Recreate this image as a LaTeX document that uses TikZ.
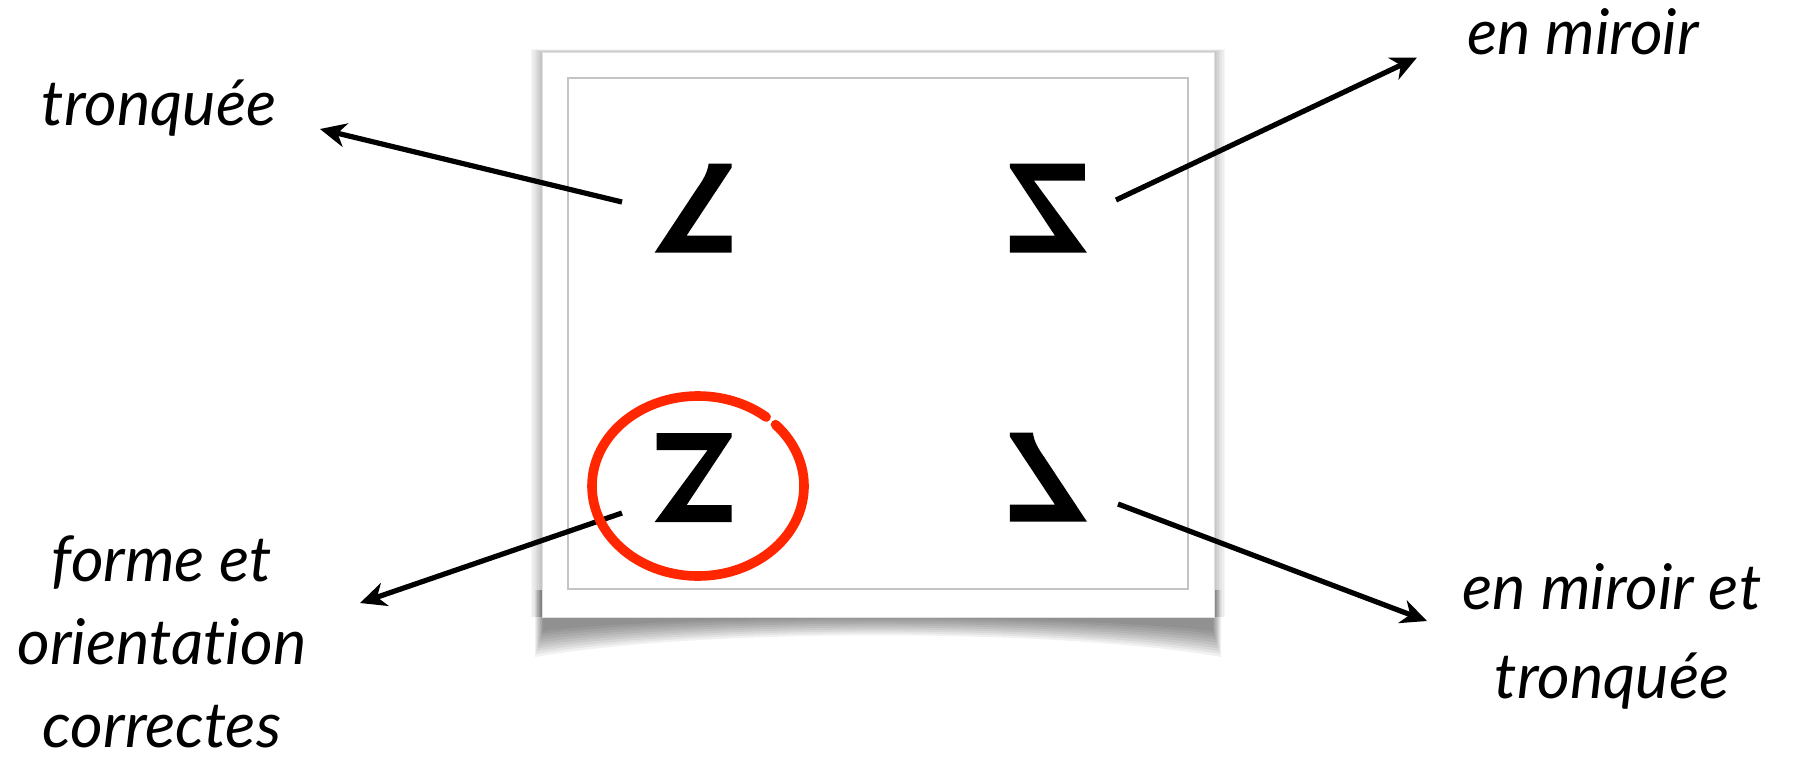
\documentclass[tikz,border=0pt]{standalone}
\usepackage{fontspec}
\setmainfont{Lato}[Ligatures=NoCommon]
\usetikzlibrary{arrows.meta, positioning, calc}
\definecolor{ringred}{RGB}{255,38,0}
\definecolor{framegray}{RGB}{196,196,196}
\tikzset{
  lbl/.style={font=\fontsize{31.5}{41.5}\selectfont\itshape, inner sep=0pt, text=black},
  arrow/.style={-{Stealth[length=13pt, width=12pt, inset=4pt]}, line width=2.6pt, color=black},
  zbox/.style={minimum width=38.5pt, minimum height=44.5pt, inner sep=0pt},
  glyph/.style={fill=black},
  ring/.style={draw=ringred, line width=4.8pt, line cap=round},
  zfull/.pic={\fill[glyph] (2,0) -- (77,0) -- (77,4) -- (32,72) -- (77,72) -- (77,89) -- (0,89) -- (53,17) -- (2,17) -- cycle;},
  zcut/.pic={\fill[glyph] (54,0) -- (77,0) -- (77,4) -- (32,72) -- (77,72) -- (77,89) -- (0,89) -- (43,24) .. controls (48,17) and (53,9) .. (54,0) -- cycle;}
}

\begin{document}
\begin{tikzpicture}[x=0.5pt, y=-0.5pt]
  \useasboundingbox (0,0) rectangle (1804,762);

  % shadow of the card
  \foreach \i in {1,...,10}
    \fill[black, opacity=0.055] (544-\i*0.9,590) -- (544-\i*0.9,628+\i*2.9)
      .. controls (700,612+\i*1.6) and (1056,612+\i*1.6) .. (1212+\i*0.9,628+\i*2.9)
      -- (1212+\i*0.9,590) -- cycle;
  \foreach \i in {1,...,7}
    \fill[black, opacity=0.035] (542-\i*1.6,52-\i*0.4) rectangle (1214+\i*1.6,617);

  % card
  \fill[white, draw=black!12, line width=0.5pt] (542,52) rectangle (1214,617);
  \draw[framegray, line width=1.3pt] (568,78) rectangle (1188,589);

  % the four letters
  \node[zbox] (zTL) at (693.5,208.5) {};
  \node[zbox] (zTR) at (1048,208.5) {};
  \node[zbox] (zBL) at (693.5,478) {};
  \node[zbox] (zBR) at (1048,477.5) {};
  \pic at (zTL.north west) {zcut};
  \pic[xscale=-1] at (zTR.north east) {zfull};
  \pic at (zBL.north west) {zfull};
  \pic[xscale=-1] at (zBR.north east) {zcut};

  % labels
  \node[lbl, anchor=base] (tronq) at (159,125) {tronquée};
  \node[lbl, anchor=base] (miroir) at (1583,54) {en miroir};
  \node[lbl, align=center] (forme) at (162,642) {forme et\\orientation\\correctes};
  \node[lbl, align=center, font=\fontsize{31.5}{44.5}\selectfont\itshape] (mirtr) at (1612,636) {en miroir et\\tronquée};

  \draw[arrow] ($(zTL)+(-71.5,-6.5)$) -- ($(tronq.base)+(161,4)$);
  \draw[arrow] ($(zTR)+(68,-8.5)$) -- ($(miroir.base)+(-166,3.5)$);
  \draw[arrow] ($(zBL)+(-71.5,35)$) -- ($(forme)+(198,-39)$);
  \draw[arrow] ($(zBR)+(70,26.5)$) -- ($(mirtr)+(-185,-15)$);

  % red ring round the right one
  \draw[ring] (698,486) ++(-43:106 and 90) arc[start angle=-43, end angle=310, x radius=106, y radius=90];
\end{tikzpicture}
\end{document}
